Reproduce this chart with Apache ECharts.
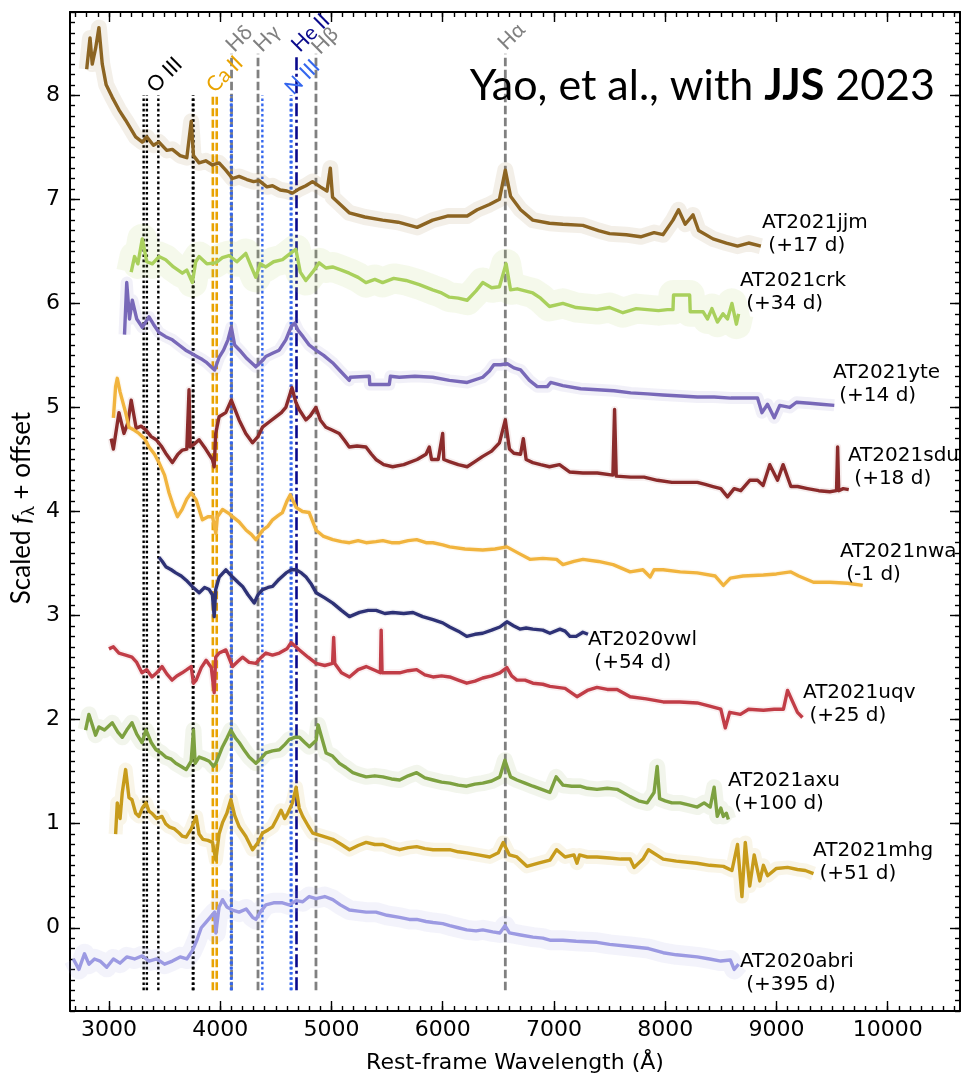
<!DOCTYPE html>
<html><head><meta charset="utf-8">
<script src="https://cdn.jsdelivr.net/npm/echarts@6/dist/echarts.min.js"></script>
<style>html,body{margin:0;padding:0;background:#fff}#c{width:969px;height:1079px}</style>
</head><body><div id="c"></div>
<script>
// ---------------- data (wavelength in Å, scaled flux + offset) ----------------
const jjm = [[2800,8.25],[2830,8.55],[2850,8.3],[2880,8.45],[2910,8.65],[2940,8.3],[2975,8.1],[3030,7.98],[3090,7.86],[3150,7.76],[3240,7.6],[3300,7.55],[3340,7.6],[3400,7.52],[3450,7.55],[3520,7.47],[3570,7.48],[3640,7.42],[3700,7.4],[3740,7.75],[3760,7.42],[3810,7.35],[3870,7.37],[3930,7.33],[3990,7.35],[4050,7.28],[4110,7.2],[4170,7.22],[4240,7.19],[4300,7.17],[4350,7.18],[4420,7.12],[4470,7.13],[4540,7.09],[4600,7.08],[4650,7.06],[4710,7.1],[4770,7.13],[4830,7.17],[4900,7.12],[4960,7.08],[4990,7.3],[5010,7.02],[5080,6.95],[5160,6.87],[5300,6.83],[5460,6.8],[5600,6.78],[5770,6.73],[5910,6.8],[6050,6.84],[6220,6.84],[6310,6.9],[6420,6.95],[6510,7.0],[6563,7.28],[6610,7.03],[6700,6.9],[6810,6.8],[6960,6.77],[7080,6.76],[7260,6.75],[7400,6.7],[7500,6.67],[7650,6.66],[7780,6.64],[7900,6.68],[7980,6.66],[8070,6.8],[8120,6.9],[8180,6.76],[8250,6.85],[8300,6.7],[8430,6.62],[8550,6.58],[8650,6.55],[8750,6.58],[8860,6.55]];
const crk = [[3200,6.3],[3230,6.45],[3260,6.38],[3300,6.62],[3340,6.4],[3390,6.38],[3450,6.45],[3510,6.42],[3580,6.35],[3660,6.29],[3700,6.32],[3750,6.2],[3780,6.4],[3810,6.45],[3880,6.38],[3960,6.39],[4020,6.44],[4080,6.46],[4150,6.4],[4230,6.48],[4280,6.35],[4320,6.25],[4360,6.38],[4410,6.35],[4480,6.4],[4560,6.42],[4620,6.47],[4680,6.52],[4720,6.3],[4770,6.22],[4830,6.3],[4890,6.39],[4950,6.34],[5010,6.35],[5090,6.32],[5160,6.29],[5240,6.25],[5310,6.2],[5390,6.23],[5460,6.2],[5560,6.24],[5670,6.22],[5790,6.18],[5910,6.13],[5990,6.1],[6060,6.06],[6140,6.05],[6220,6.03],[6300,6.12],[6360,6.2],[6440,6.15],[6510,6.16],[6570,6.38],[6610,6.13],[6670,6.14],[6740,6.12],[6810,6.1],[6880,6.05],[6960,5.97],[7080,6.0],[7200,5.96],[7390,5.94],[7500,5.96],[7620,5.91],[7740,5.95],[7840,5.94],[7940,5.93],[8020,5.94],[8070,5.94],[8075,6.08],[8220,6.08],[8225,5.92],[8340,5.92],[8380,5.85],[8420,5.95],[8470,5.82],[8520,5.9],[8560,5.85],[8600,6.0],[8640,5.8],[8660,5.9]];
const yte = [[3140,5.7],[3160,6.2],[3185,5.85],[3210,6.03],[3250,5.85],[3300,5.77],[3360,5.87],[3400,5.8],[3450,5.72],[3510,5.68],[3570,5.65],[3630,5.6],[3690,5.55],[3740,5.52],[3790,5.49],[3840,5.46],[3880,5.43],[3950,5.36],[3990,5.48],[4030,5.55],[4070,5.65],[4100,5.77],[4130,5.6],[4175,5.55],[4240,5.47],[4320,5.39],[4380,5.45],[4410,5.49],[4470,5.52],[4530,5.55],[4590,5.65],[4640,5.78],[4670,5.81],[4700,5.74],[4745,5.68],[4800,5.6],[4860,5.55],[4930,5.5],[5010,5.43],[5080,5.35],[5160,5.26],[5170,5.29],[5340,5.3],[5345,5.22],[5520,5.22],[5530,5.3],[5610,5.29],[5750,5.3],[5910,5.29],[6060,5.26],[6220,5.24],[6360,5.29],[6420,5.35],[6460,5.41],[6520,5.41],[6580,5.42],[6640,5.38],[6700,5.36],[6780,5.26],[6850,5.2],[6940,5.2],[6970,5.24],[7080,5.21],[7240,5.18],[7390,5.17],[7540,5.16],[7690,5.14],[7840,5.13],[7980,5.12],[8140,5.11],[8290,5.1],[8440,5.1],[8590,5.09],[8720,5.09],[8830,5.09],[8870,4.95],[8920,5.03],[8980,4.9],[9030,5.02],[9120,5.0],[9180,5.05],[9300,5.04],[9400,5.03],[9520,5.02]];
const sdu = [[3020,4.7],[3040,4.6],[3090,4.95],[3135,4.75],[3170,4.85],[3200,5.07],[3245,4.8],[3290,4.82],[3335,4.78],[3380,4.72],[3425,4.69],[3470,4.63],[3510,4.56],[3570,4.47],[3620,4.55],[3660,4.59],[3700,4.6],[3720,5.17],[3730,4.62],[3770,4.65],[3810,4.69],[3870,4.6],[3930,4.5],[3946,4.43],[3960,4.75],[3990,4.91],[4050,4.95],[4100,5.07],[4170,4.88],[4230,4.75],[4290,4.66],[4340,4.72],[4380,4.81],[4440,4.86],[4500,4.91],[4550,4.95],[4590,5.0],[4645,5.19],[4680,5.05],[4710,4.98],[4770,4.88],[4810,4.92],[4860,5.0],[4900,4.88],[4950,4.81],[5010,4.78],[5070,4.75],[5120,4.68],[5160,4.62],[5230,4.63],[5310,4.62],[5360,4.55],[5400,4.5],[5470,4.45],[5550,4.43],[5650,4.45],[5770,4.5],[5850,4.55],[5880,4.62],[5900,4.5],[5960,4.5],[6000,4.75],[6010,4.5],[6060,4.48],[6140,4.45],[6220,4.43],[6290,4.48],[6360,4.53],[6440,4.58],[6510,4.66],[6563,4.88],[6600,4.6],[6640,4.56],[6700,4.55],[6725,4.7],[6750,4.5],[6810,4.47],[6880,4.45],[6960,4.43],[7050,4.45],[7140,4.38],[7260,4.37],[7390,4.37],[7530,4.35],[7545,4.98],[7560,4.34],[7690,4.33],[7810,4.33],[7930,4.3],[8060,4.28],[8180,4.28],[8290,4.28],[8360,4.26],[8430,4.24],[8500,4.22],[8560,4.14],[8620,4.22],[8680,4.2],[8760,4.3],[8830,4.3],[8880,4.25],[8940,4.45],[9010,4.3],[9060,4.45],[9130,4.24],[9190,4.24],[9280,4.22],[9380,4.2],[9480,4.19],[9540,4.2],[9550,4.62],[9560,4.2],[9600,4.22],[9650,4.21]];
const nwa = [[3040,4.9],[3060,5.2],[3075,5.28],[3100,5.15],[3120,5.07],[3150,4.95],[3180,4.81],[3230,4.78],[3270,4.75],[3320,4.7],[3360,4.62],[3410,4.55],[3450,4.47],[3500,4.35],[3540,4.18],[3580,4.05],[3616,3.95],[3658,4.02],[3700,4.12],[3740,4.18],[3784,4.11],[3840,3.92],[3890,3.95],[3931,3.95],[3950,3.85],[3961,3.79],[3975,3.95],[4021,4.02],[4080,3.98],[4111,3.95],[4170,3.9],[4234,3.82],[4280,3.78],[4321,3.73],[4350,3.77],[4381,3.82],[4430,3.86],[4471,3.92],[4520,3.96],[4559,3.99],[4600,4.1],[4630,4.16],[4682,4.04],[4740,4.0],[4800,3.99],[4862,3.82],[4930,3.76],[5012,3.73],[5090,3.71],[5162,3.7],[5240,3.72],[5312,3.7],[5400,3.71],[5462,3.72],[5540,3.7],[5613,3.7],[5690,3.72],[5766,3.73],[5850,3.7],[5913,3.7],[6000,3.68],[6063,3.66],[6200,3.64],[6360,3.63],[6470,3.64],[6577,3.66],[6680,3.6],[6784,3.54],[6900,3.55],[7024,3.54],[7081,3.49],[7180,3.52],[7261,3.54],[7400,3.52],[7532,3.49],[7685,3.42],[7800,3.44],[7865,3.37],[7900,3.44],[7982,3.44],[8135,3.42],[8288,3.41],[8450,3.38],[8523,3.29],[8586,3.36],[8700,3.38],[8883,3.39],[9000,3.4],[9126,3.42],[9200,3.38],[9333,3.32],[9480,3.32],[9640,3.31],[9775,3.29]];
const vwl = [[3450,3.56],[3480,3.52],[3511,3.47],[3560,3.44],[3601,3.41],[3650,3.38],[3694,3.34],[3748,3.28],[3811,3.22],[3860,3.27],[3901,3.25],[3930,3.2],[3946,2.99],[3960,3.25],[3991,3.37],[4051,3.44],[4111,3.37],[4160,3.32],[4201,3.28],[4250,3.2],[4306,3.12],[4340,3.2],[4381,3.25],[4430,3.27],[4471,3.28],[4530,3.35],[4592,3.41],[4640,3.44],[4682,3.44],[4730,3.41],[4772,3.37],[4820,3.3],[4862,3.22],[4940,3.17],[5012,3.12],[5090,3.05],[5162,2.99],[5252,3.03],[5330,3.05],[5402,3.05],[5480,3.02],[5552,3.03],[5650,3.02],[5733,3.03],[5820,2.99],[5913,2.96],[6000,2.93],[6063,2.89],[6140,2.85],[6216,2.8],[6290,2.82],[6360,2.83],[6440,2.86],[6514,2.89],[6577,2.94],[6640,2.9],[6694,2.87],[6750,2.88],[6811,2.87],[6900,2.86],[6964,2.83],[7054,2.87],[7100,2.85],[7144,2.8],[7200,2.8],[7260,2.84],[7306,2.82]];
const uqv = [[3000,2.68],[3040,2.7],[3090,2.64],[3150,2.62],[3207,2.6],[3250,2.55],[3297,2.45],[3340,2.48],[3387,2.41],[3430,2.45],[3477,2.51],[3520,2.44],[3568,2.38],[3610,2.42],[3658,2.45],[3700,2.48],[3739,2.51],[3760,2.35],[3784,2.38],[3830,2.5],[3874,2.57],[3920,2.5],[3946,2.26],[3960,2.6],[3991,2.64],[4051,2.67],[4111,2.51],[4160,2.56],[4201,2.6],[4260,2.55],[4321,2.54],[4370,2.6],[4411,2.64],[4470,2.62],[4532,2.64],[4600,2.68],[4637,2.74],[4680,2.7],[4712,2.67],[4790,2.6],[4862,2.54],[4940,2.52],[5010,2.54],[5020,2.79],[5030,2.54],[5090,2.45],[5162,2.41],[5240,2.48],[5312,2.51],[5400,2.47],[5440,2.45],[5447,2.86],[5455,2.45],[5530,2.45],[5613,2.45],[5690,2.47],[5766,2.48],[5840,2.43],[5913,2.41],[5990,2.42],[6063,2.41],[6140,2.38],[6216,2.35],[6290,2.37],[6360,2.4],[6440,2.42],[6514,2.45],[6577,2.5],[6620,2.42],[6667,2.38],[6740,2.38],[6811,2.35],[6900,2.34],[6964,2.32],[7100,2.3],[7207,2.22],[7300,2.28],[7387,2.31],[7480,2.29],[7568,2.29],[7685,2.22],[7830,2.2],[7982,2.17],[8130,2.17],[8288,2.16],[8400,2.13],[8500,2.1],[8540,1.92],[8580,2.07],[8676,2.05],[8750,2.1],[8883,2.09],[8980,2.1],[9063,2.1],[9100,2.28],[9189,2.07],[9234,2.02]];
const axu = [[2790,1.9],[2820,2.05],[2850,1.95],[2880,1.85],[2910,1.93],[2960,1.9],[3030,1.97],[3080,1.88],[3120,1.83],[3160,1.9],[3207,1.97],[3250,1.86],[3297,1.78],[3333,1.9],[3380,1.78],[3423,1.71],[3470,1.68],[3511,1.64],[3560,1.62],[3601,1.58],[3650,1.55],[3694,1.52],[3739,1.6],[3760,1.9],[3775,1.58],[3811,1.64],[3860,1.62],[3901,1.6],[3940,1.55],[3961,1.58],[4021,1.74],[4060,1.82],[4096,1.9],[4140,1.82],[4171,1.78],[4220,1.7],[4261,1.64],[4321,1.58],[4370,1.63],[4411,1.68],[4470,1.7],[4532,1.71],[4580,1.76],[4622,1.81],[4670,1.83],[4712,1.83],[4760,1.78],[4802,1.74],[4862,1.8],[4880,1.95],[4952,1.68],[5010,1.65],[5072,1.58],[5130,1.54],[5192,1.49],[5250,1.47],[5312,1.45],[5390,1.46],[5462,1.45],[5540,1.43],[5613,1.42],[5690,1.46],[5766,1.49],[5840,1.44],[5913,1.42],[5990,1.4],[6063,1.39],[6140,1.37],[6216,1.36],[6290,1.38],[6360,1.39],[6440,1.41],[6514,1.45],[6559,1.61],[6610,1.45],[6667,1.42],[6740,1.39],[6811,1.36],[6890,1.33],[6964,1.3],[7020,1.45],[7081,1.37],[7160,1.36],[7234,1.36],[7300,1.34],[7387,1.33],[7480,1.34],[7568,1.33],[7685,1.26],[7760,1.22],[7838,1.2],[7900,1.3],[7928,1.55],[7950,1.24],[8000,1.22],[8060,1.2],[8135,1.2],[8210,1.18],[8288,1.16],[8350,1.2],[8405,1.16],[8440,1.35],[8468,1.07],[8500,1.15],[8523,1.07],[8550,1.1],[8568,1.04]];
const mhg = [[3060,0.9],[3075,1.2],[3100,1.05],[3120,1.3],[3150,1.52],[3180,1.25],[3207,1.23],[3240,1.1],[3270,1.07],[3300,1.15],[3333,1.2],[3360,1.12],[3387,1.1],[3430,1.05],[3477,1.07],[3510,1.0],[3541,0.97],[3590,0.95],[3631,0.91],[3660,0.88],[3694,0.87],[3740,0.95],[3784,1.07],[3810,0.9],[3844,0.85],[3890,0.84],[3931,0.82],[3961,0.65],[3990,0.9],[4021,1.01],[4060,1.1],[4096,1.23],[4130,1.08],[4171,0.97],[4230,0.88],[4291,0.75],[4340,0.82],[4381,0.91],[4430,0.94],[4471,0.97],[4510,1.05],[4547,1.13],[4580,1.05],[4607,1.1],[4650,1.2],[4682,1.35],[4710,1.15],[4742,1.07],[4790,0.98],[4832,0.91],[4920,0.88],[5012,0.85],[5090,0.8],[5162,0.75],[5240,0.79],[5312,0.82],[5390,0.8],[5462,0.8],[5540,0.77],[5613,0.75],[5690,0.77],[5766,0.78],[5840,0.76],[5913,0.75],[5990,0.75],[6063,0.75],[6140,0.73],[6216,0.72],[6320,0.7],[6423,0.68],[6500,0.72],[6544,0.82],[6600,0.7],[6667,0.68],[6757,0.59],[6860,0.62],[6964,0.65],[7024,0.75],[7100,0.68],[7180,0.7],[7207,0.62],[7230,0.7],[7300,0.68],[7387,0.68],[7500,0.67],[7600,0.66],[7685,0.66],[7720,0.58],[7800,0.66],[7850,0.75],[7982,0.66],[8100,0.64],[8288,0.62],[8400,0.6],[8523,0.59],[8600,0.55],[8650,0.8],[8690,0.3],[8720,0.82],[8760,0.4],[8800,0.7],[8850,0.45],[8883,0.6],[8920,0.5],[9000,0.57],[9100,0.58],[9189,0.56],[9260,0.55],[9333,0.52]];
const abri = [[2680,-0.3],[2730,-0.4],[2780,-0.25],[2820,-0.35],[2870,-0.3],[2920,-0.32],[2980,-0.38],[3040,-0.3],[3100,-0.34],[3160,-0.28],[3230,-0.3],[3300,-0.27],[3360,-0.32],[3430,-0.3],[3500,-0.35],[3570,-0.32],[3640,-0.28],[3700,-0.3],[3750,-0.22],[3790,-0.12],[3830,0.0],[3870,0.05],[3910,0.1],[3950,0.15],[3961,-0.05],[3990,0.2],[4021,0.27],[4060,0.2],[4111,0.17],[4170,0.15],[4234,0.18],[4291,0.1],[4321,0.08],[4360,0.15],[4411,0.22],[4480,0.24],[4560,0.24],[4620,0.22],[4682,0.26],[4742,0.25],[4800,0.3],[4862,0.28],[4940,0.3],[5012,0.27],[5080,0.22],[5162,0.17],[5240,0.16],[5312,0.15],[5400,0.15],[5500,0.12],[5613,0.1],[5700,0.08],[5766,0.08],[5850,0.06],[5913,0.05],[6000,0.04],[6063,0.02],[6140,0.0],[6216,-0.02],[6300,-0.03],[6360,-0.02],[6450,-0.04],[6514,-0.05],[6560,0.02],[6600,-0.05],[6700,-0.07],[6811,-0.09],[6900,-0.1],[6964,-0.12],[7081,-0.12],[7200,-0.13],[7387,-0.14],[7500,-0.16],[7685,-0.18],[7850,-0.2],[7982,-0.24],[8100,-0.26],[8288,-0.28],[8400,-0.3],[8500,-0.32],[8586,-0.31],[8620,-0.4],[8660,-0.35]];

const spectrumNames = ['AT2021jjm','AT2021crk','AT2021yte','AT2021sdu','AT2021nwa','AT2020vwl','AT2021uqv','AT2021axu','AT2021mhg','AT2020abri'];
const spectrumPhases = ['(+17 d)','(+34 d)','(+14 d)','(+18 d)','(-1 d)','(+54 d)','(+25 d)','(+100 d)','(+51 d)','(+395 d)'];
const spectrumData = [jjm, crk, yte, sdu, nwa, vwl, uqv, axu, mhg, abri];

// line identifications (Å)
const oiiiWaves = [3312, 3341, 3444, 3754, 3760];
const caiiWaves = [3934, 3969];
const niiiWaves = [4097, 4103, 4379, 4634, 4641];
const heiiWaves = [4686];
const hWaves = [4102, 4340, 4861, 6563];

const xMajorTicks = [3000, 4000, 5000, 6000, 7000, 8000, 9000, 10000];
const yMajorTicks = [0, 1, 2, 3, 4, 5, 6, 7, 8];

// ---------------- styling / layout ----------------
const X_MIN = 2650, X_MAX = 10650, Y_MIN = -0.8, Y_MAX = 8.8;
const colors = ['#8C6422','#A9D05C','#7868B8','#8B2B2B','#F1B43E','#2E3276','#C13D47','#7DA140','#C79B1B','#9C9AE2'];
const haloWidths = [16, 30, 12, 7, 6, 6, 7, 16, 14, 20];
const haloOpacity = [0.1, 0.12, 0.1, 0.08, 0.08, 0.08, 0.08, 0.1, 0.1, 0.12];
const labelAnchors = [[8870,6.66],[8672,6.11],[9508,5.22],[9643,4.42],[9571,3.50],[7306,2.66],[9239,2.15],[8564,1.30],[9329,0.63],[8672,-0.44]];

const xMinor = []; for (let v = 2700; v <= 10600; v += 100) xMinor.push(v);
const yMinor = []; for (let k = -8; k <= 88; k++) yMinor.push(Math.round(k) / 10);

const chart = echarts.init(document.getElementById('c'), null, {renderer: 'canvas'});
const FONT = 'DejaVu Sans';
const series = [];

// vertical identification lines
function vlines(waves, color, dash, width, top, bottom) {
  waves.forEach(w => series.push({
    type: 'line', data: [[w, bottom], [w, top]], showSymbol: false, silent: true, z: 1,
    lineStyle: {color: color, width: width, type: dash}
  }));
}
vlines(oiiiWaves, '#000000', [2.6, 2.6], 2.4, 8.0, -0.6);
vlines(caiiWaves, '#E9A300', [8, 3.5], 2.6, 8.0, -0.6);
vlines(hWaves, '#808080', [8.5, 3.5], 2.8, 8.4, -0.6);
vlines(niiiWaves, '#3366EE', [2.6, 2.6], 2.4, 8.0, -0.6);
vlines(heiiWaves, '#0A0A8C', [13, 3.5, 3, 3.5], 2.6, 8.4, -0.6);

// spectra
spectrumData.forEach((d, i) => {
  series.push({type: 'line', data: d, showSymbol: false, silent: true, z: 2,
    lineStyle: {color: colors[i], width: haloWidths[i], opacity: haloOpacity[i], join: 'round'}});
  series.push({type: 'line', data: d, showSymbol: false, silent: true, z: 3,
    lineStyle: {color: colors[i], width: 3.4, join: 'round'}});
});

// spectrum labels
series.push({
  type: 'custom', coordinateSystem: 'cartesian2d', silent: true, z: 6,
  data: labelAnchors,
  renderItem: function (params, api) {
    const p = api.coord([api.value(0), api.value(1)]);
    const i = params.dataIndex;
    return {type: 'text', x: p[0], y: p[1], style: {
      text: spectrumNames[i] + '\n ' + spectrumPhases[i], fill: '#000',
      font: '20px "' + FONT + '"', lineHeight: 23, align: 'left', verticalAlign: 'middle'}};
  }
});

// line id labels (rotated 45 degrees)
const lineLabelText = ['O III', 'Ca II', 'H\u03b4', 'H\u03b3', 'N III', 'He II', 'H\u03b2', 'H\u03b1'];
const lineLabelColor = ['#000000', '#E9A300', '#808080', '#808080', '#3366EE', '#0A0A8C', '#808080', '#808080'];
const lineLabelAnchor = [[3440, 7.99], [3975, 7.99], [4150, 8.38], [4400, 8.38], [4680, 7.97], [4740, 8.38], [4920, 8.36], [6595, 8.4]];
series.push({
  type: 'custom', coordinateSystem: 'cartesian2d', silent: true, z: 7, clip: true,
  data: lineLabelAnchor,
  renderItem: function (params, api) {
    const p = api.coord([api.value(0), api.value(1)]);
    const i = params.dataIndex;
    return {type: 'text', x: p[0], y: p[1], rotation: Math.PI / 4, style: {
      text: lineLabelText[i], fill: lineLabelColor[i], font: '21px Lato', align: 'left', verticalAlign: 'bottom'}};
  }
});

function xAx(pos, ticks, len, showLine, showLabel) {
  return {type: 'value', min: X_MIN, max: X_MAX, position: pos, gridIndex: 0,
    axisLine: {show: showLine, onZero: false, lineStyle: {color: '#000', width: 2}},
    axisTick: {show: true, inside: true, length: len, customValues: ticks, lineStyle: {color: '#000', width: 1.4}},
    axisLabel: showLabel ? {show: true, customValues: ticks, formatter: v => String(v), color: '#000', fontSize: 22, fontFamily: FONT, margin: 8} : {show: false},
    splitLine: {show: false}};
}
function yAx(pos, ticks, len, showLine, showLabel) {
  return {type: 'value', min: Y_MIN, max: Y_MAX, position: pos, gridIndex: 0,
    axisLine: {show: showLine, onZero: false, lineStyle: {color: '#000', width: 2}},
    axisTick: {show: true, inside: true, length: len, customValues: ticks, lineStyle: {color: '#000', width: 1.4}},
    axisLabel: showLabel ? {show: true, customValues: ticks, formatter: v => String(v), color: '#000', fontSize: 22, fontFamily: FONT, margin: 10} : {show: false},
    splitLine: {show: false}};
}
const xAxes = [xAx('bottom', xMajorTicks, 10, true, true), xAx('bottom', xMinor, 5, false, false),
  xAx('top', xMajorTicks, 10, true, false), xAx('top', xMinor, 5, false, false)];
xAxes[0].name = 'Rest-frame Wavelength (\u00c5)';
xAxes[0].nameLocation = 'middle';
xAxes[0].nameGap = 41;
xAxes[0].nameTextStyle = {color: '#000', fontSize: 22, fontFamily: FONT};
const yAxes = [yAx('left', yMajorTicks, 10, true, true), yAx('left', yMinor, 5, false, false),
  yAx('right', yMajorTicks, 10, true, false), yAx('right', yMinor, 5, false, false)];

chart.setOption({
  animation: false,
  backgroundColor: '#ffffff',
  grid: {left: 70, top: 12, width: 890, height: 1001, containLabel: false},
  xAxis: xAxes,
  yAxis: yAxes,
  series: series,
  graphic: [
    {type: 'text', x: 935, y: 86, z: 100, style: {
      text: '{a|Yao, et al., with }{b|JJS}{a| 2023}', align: 'right', verticalAlign: 'middle',
      rich: {a: {font: '43px Lato', fill: '#000'}, b: {font: 'bold 43px Lato', fill: '#000'}}}},
    {type: 'text', x: 22, y: 508, rotation: Math.PI / 2, z: 100, style: {
      text: '{n|Scaled }{i|f}{s|\u03bb}{n| + offset}', align: 'center', verticalAlign: 'middle',
      rich: {n: {font: '26px Lato', fill: '#000', lineHeight: 30},
             i: {font: 'italic 26px Lato', fill: '#000', lineHeight: 30},
             s: {font: '17px Lato', fill: '#000', lineHeight: 17, verticalAlign: 'bottom'}}}}
  ]
});
</script></body></html>
